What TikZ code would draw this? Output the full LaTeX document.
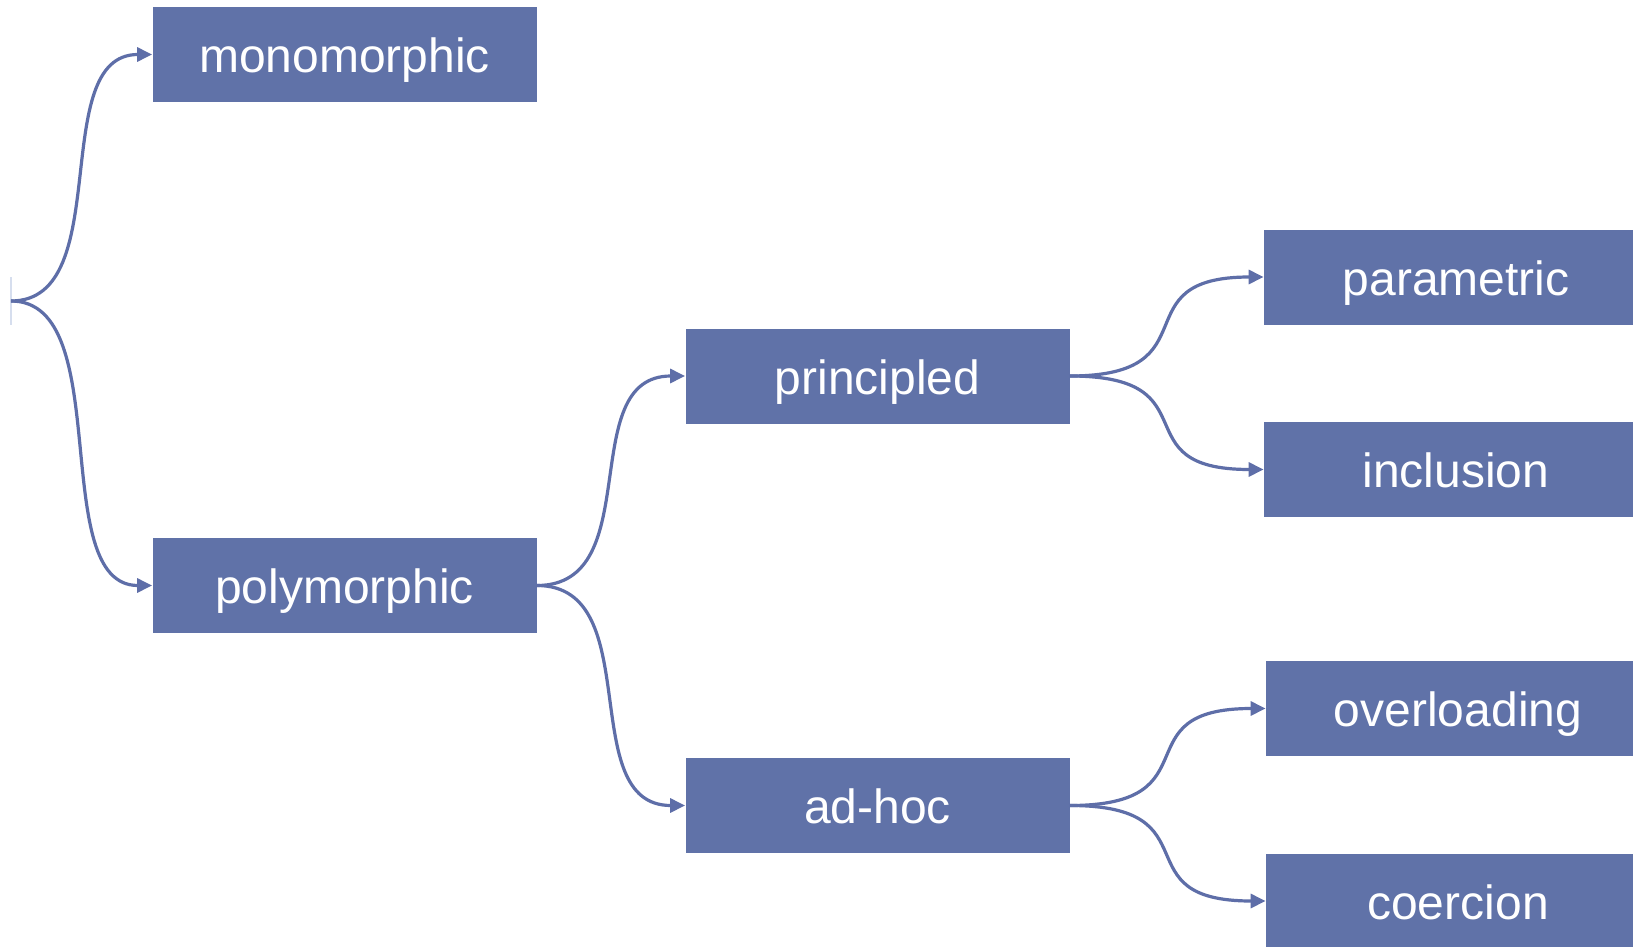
\documentclass[tikz,border=0pt]{standalone}
\usepackage{fontspec}
\setmainfont{Liberation Sans}
\usetikzlibrary{calc,arrows.meta}
\definecolor{boxblue}{RGB}{96,114,168}
\definecolor{lineblue}{RGB}{94,110,168}
\definecolor{faintblue}{RGB}{214,222,238}
\tikzset{
  catbox/.style={fill=boxblue, draw=none, text=white, minimum width=192pt, minimum height=47.5pt,
    inner sep=0pt, text height=18.2pt, text depth=0pt, font=\fontsize{24}{28}\selectfont},
  conn/.style={draw=lineblue, line width=1.6pt, -{Triangle[length=7.5pt,width=7pt]}},
}
\newcommand\curvecon[2]{%
  \draw[conn] let \p1=(#1), \p2=(#2) in
    (\p1) .. controls ($(\p1)!0.75!(\x2,\y1)$) and ($(\p2)!0.75!(\x1,\y2)$) .. (\p2);}
\begin{document}
\begin{tikzpicture}[x=0.5pt,y=-0.5pt]
\clip (0,0) rectangle (1633,947);
\fill[white] (0,0) rectangle (1633,947);
\draw[faintblue, line width=0.6pt] (11,277) -- (11,325);
\coordinate (root) at (11,301);
\node[catbox] (mono) at (344.5,54.5) {monomorphic};
\node[catbox] (poly) at (344.5,585.5) {polymorphic};
\node[catbox] (prin) at (877.5,376) {principled};
\node[catbox] (adhoc) at (877.5,805.5) {ad-hoc};
\node[catbox] (param) at (1456,277) {parametric};
\node[catbox] (incl) at (1456,469.5) {inclusion};
\node[catbox] (over) at (1458,708.5) {overloading};
\node[catbox] (coer) at (1458,901) {coercion};
\curvecon{root}{mono.west}
\curvecon{root}{poly.west}
\curvecon{poly.east}{prin.west}
\curvecon{poly.east}{adhoc.west}
\curvecon{prin.east}{param.west}
\curvecon{prin.east}{incl.west}
\curvecon{adhoc.east}{over.west}
\curvecon{adhoc.east}{coer.west}
\end{tikzpicture}
\end{document}
